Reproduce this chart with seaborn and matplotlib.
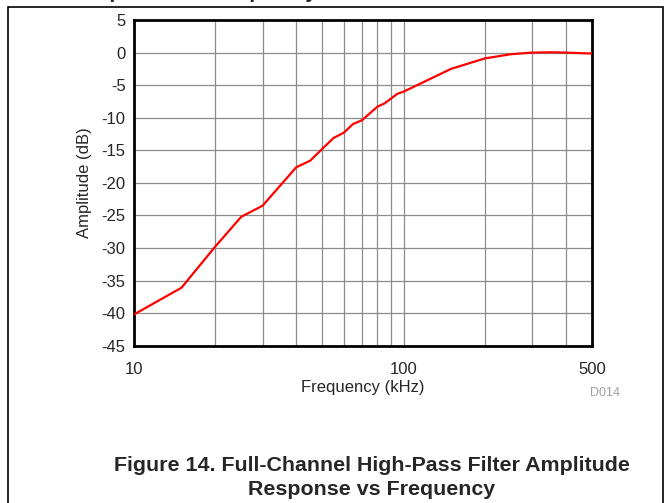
import numpy as np
import pandas as pd
import seaborn as sns
import matplotlib.pyplot as plt
from matplotlib.patches import Rectangle
from matplotlib.ticker import FixedLocator, NullFormatter

# data
freq_khz = [10, 15, 20, 25, 30, 40, 45, 55, 60, 65, 70, 80, 85, 95, 100,
            150, 200, 250, 300, 350, 400, 500]
amp_db = [-40.2, -36.1, -29.8, -25.2, -23.5, -17.6, -16.6, -13.1, -12.3, -10.95,
          -10.4, -8.3, -7.8, -6.3, -6.0, -2.5, -0.9, -0.25, 0.0, 0.05, 0.0, -0.15]

x_major = [10, 100, 500]
x_minor = [20, 30, 40, 50, 60, 70, 80, 90, 200, 300, 400]
y_ticks = list(range(-45, 6, 5))

df = pd.DataFrame({'Frequency': freq_khz, 'Amplitude': amp_db})

sns.set_style('white')
plt.rcParams['font.family'] = ['Liberation Sans', 'DejaVu Sans']

fig = plt.figure(figsize=(6.71, 5.03), dpi=100)
ax = fig.add_axes([0.1997, 0.3127, 0.6826, 0.6475])

sns.lineplot(data=df, x='Frequency', y='Amplitude', ax=ax,
             color='#ff0000', linewidth=1.6, zorder=3)

ax.set_xscale('log')
ax.set_xlim(10, 500)
ax.set_ylim(-45, 5)
ax.xaxis.set_major_locator(FixedLocator(x_major))
ax.xaxis.set_minor_locator(FixedLocator(x_minor))
ax.xaxis.set_minor_formatter(NullFormatter())
ax.set_xticklabels([str(v) for v in x_major])
ax.set_yticks(y_ticks)
ax.set_yticklabels([str(v) for v in y_ticks])
ax.tick_params(which='both', length=0, labelsize=12)
ax.tick_params(axis='x', pad=12)
ax.tick_params(axis='y', pad=6)

ax.grid(True, which='both', color='#8c8c8c', linewidth=0.9)
ax.set_axisbelow(True)
for s in ax.spines.values():
    s.set_visible(True)
    s.set_color('black')
    s.set_linewidth(2)

ax.set_xlabel('Frequency (kHz)', fontsize=12, labelpad=2)
ax.set_ylabel('Amplitude (dB)', fontsize=12, labelpad=7)

fig.text(0.902, 0.219, 'D014', fontsize=9, color='#a0a0a0', ha='center', va='center')

fig.text(0.554, 0.0507, 'Figure 14. Full-Channel High-Pass Filter Amplitude\nResponse vs Frequency',
         fontsize=15.4, fontweight='bold', ha='center', va='center', linespacing=1.3)

# cut-off caption of the figure above (only descenders show), and the page frame
fig.text(0.289, 1 + 2.2 / 503, 'Response vs Frequency', fontsize=15.4, fontweight='bold',
         ha='center', va='baseline')
fig.patches.append(Rectangle((8 / 671, -0.1), 655 / 671, 1.1 - 7 / 503,
                             transform=fig.transFigure, fill=False,
                             edgecolor='black', linewidth=1.2))

fig.savefig('out.png', dpi=100)
